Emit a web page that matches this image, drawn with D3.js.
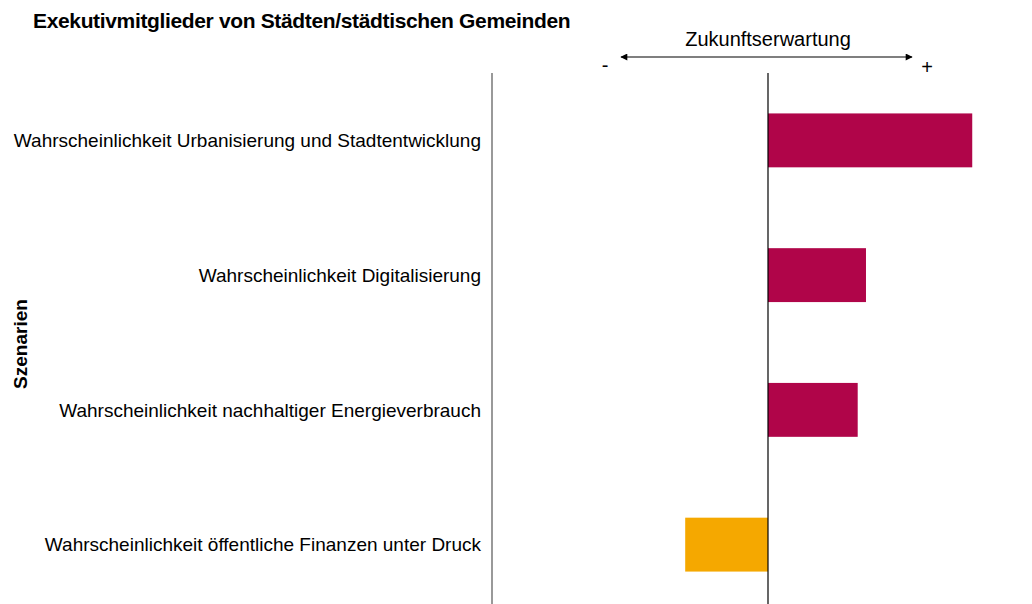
<!DOCTYPE html>
<html>
<head>
<meta charset="utf-8">
<script src="https://cdn.jsdelivr.net/npm/d3@7"></script>
<style>
  body { margin: 0; background: #fff; }
  svg { display: block; font-family: "Liberation Sans", Arial, sans-serif; }
</style>
</head>
<body>
<div id="chart"></div>
<script>
const scenarios = [
    "Wahrscheinlichkeit Urbanisierung und Stadtentwicklung",
    "Wahrscheinlichkeit Digitalisierung",
    "Wahrscheinlichkeit nachhaltiger Energieverbrauch",
    "Wahrscheinlichkeit öffentliche Finanzen unter Druck"
];
const expectation = [0.74, 0.355, 0.325, -0.30];
const title = "Exekutivmitglieder von Städten/städtischen Gemeinden";

const W = 1032, H = 604;
const svg = d3.select("#chart").append("svg")
    .attr("width", W)
    .attr("height", H);

const x = d3.scaleLinear().domain([-1, 1]).range([492, 1044]);
const y = d3.scaleBand().domain(scenarios).range([73, 612]).paddingInner(0.6).paddingOuter(0.3);

//title
svg.append("text")
    .attr("x", 33).attr("y", 28)
    .attr("font-size", 21).attr("font-weight", "bold")
    .attr("letter-spacing", -0.35)
    .text(title);

//arrow on top
const defs = svg.append("defs");
defs.append("marker")
    .attr("id", "arr")
    .attr("viewBox", "0 0 10 10")
    .attr("refX", 9).attr("refY", 5)
    .attr("markerWidth", 9).attr("markerHeight", 7)
    .attr("markerUnits", "userSpaceOnUse")
    .attr("orient", "auto-start-reverse")
    .append("path").attr("d", "M0,0L10,5L0,10z").attr("fill", "#000");

svg.append("line")
    .attr("x1", 621).attr("x2", 912)
    .attr("y1", 57).attr("y2", 57)
    .attr("stroke", "#000").attr("stroke-width", 1.2)
    .attr("marker-start", "url(#arr)")
    .attr("marker-end", "url(#arr)");

svg.append("text")
    .attr("x", x(0)).attr("y", 46)
    .attr("text-anchor", "middle").attr("font-size", 20)
    .text("Zukunftserwartung");
svg.append("text").attr("x", 605).attr("y", 72).attr("text-anchor", "middle").attr("font-size", 20).text("-");
svg.append("text").attr("x", 927).attr("y", 74).attr("text-anchor", "middle").attr("font-size", 20).text("+");

//bars
svg.append("g")
    .selectAll("rect")
    .data(scenarios)
    .join("rect")
    .attr("x", (d, i) => x(Math.min(0, expectation[i])))
    .attr("width", (d, i) => Math.abs(x(expectation[i]) - x(0)))
    .attr("y", d => y(d))
    .attr("height", y.bandwidth())
    .attr("fill", (d, i) => expectation[i] < 0 ? "#f5a800" : "#b00549");

//left axis line and zero line
svg.append("line")
    .attr("x1", x(-1)).attr("x2", x(-1))
    .attr("y1", 73).attr("y2", H)
    .attr("stroke", "#555").attr("stroke-width", 1.2);
svg.append("line")
    .attr("x1", x(0)).attr("x2", x(0))
    .attr("y1", 73).attr("y2", H)
    .attr("stroke", "#000").attr("stroke-width", 1.2);

//category labels
svg.append("g")
    .selectAll("text")
    .data(scenarios)
    .join("text")
    .attr("x", 481)
    .attr("y", d => y(d) + y.bandwidth() / 2)
    .attr("dy", "0.35em")
    .attr("text-anchor", "end")
    .attr("font-size", 19)
    .text(d => d);

//y axis title
svg.append("text")
    .attr("transform", "translate(27,344) rotate(-90)")
    .attr("text-anchor", "middle")
    .attr("font-size", 19).attr("font-weight", "bold")
    .text("Szenarien");
</script>
</body>
</html>
